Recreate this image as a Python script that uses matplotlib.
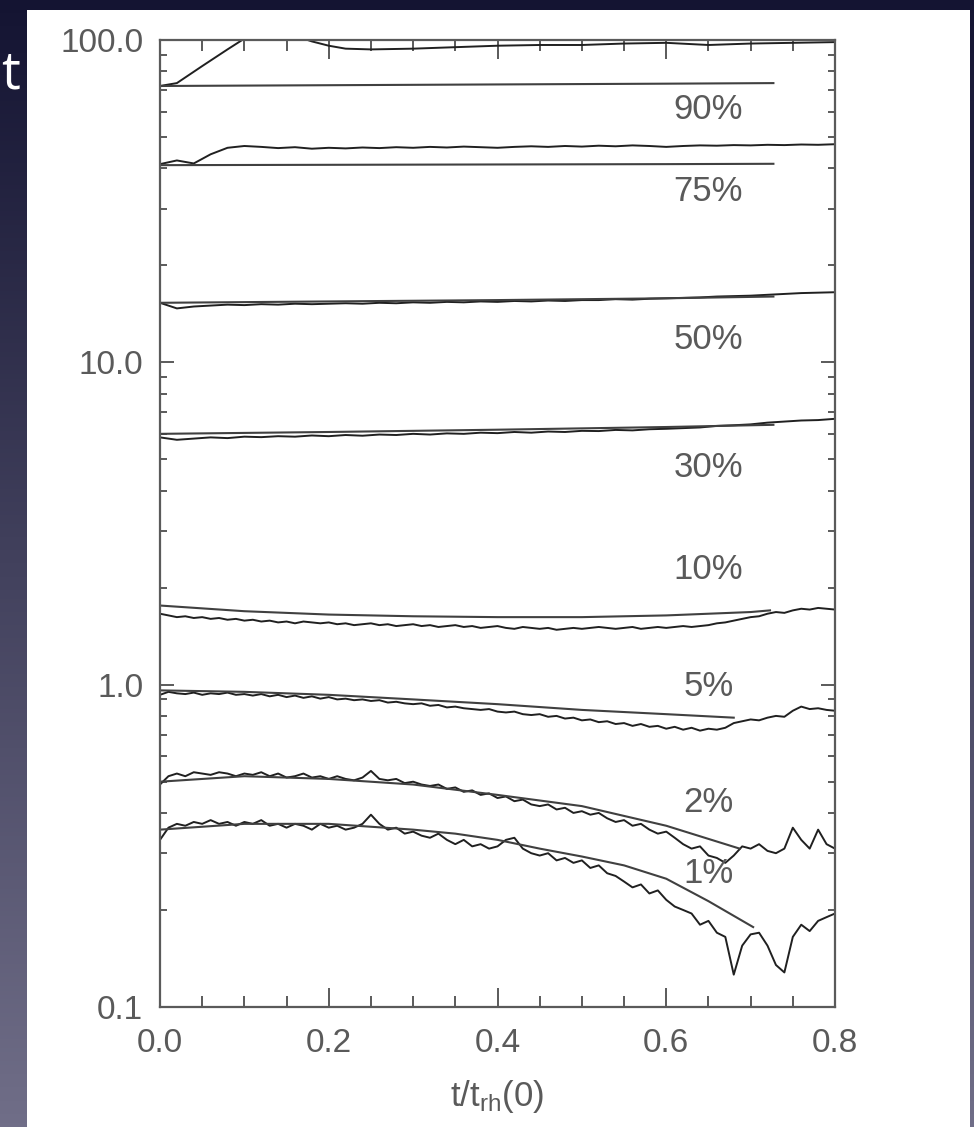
import numpy as np
import matplotlib
matplotlib.use("Agg")
import matplotlib.pyplot as plt
from matplotlib.patches import Rectangle

# time grids, t / t_rh(0)
t_fine = [0.00, 0.01, 0.02, 0.03, 0.04, 0.05, 0.06, 0.07, 0.08, 0.09,
          0.10, 0.11, 0.12, 0.13, 0.14, 0.15, 0.16, 0.17, 0.18, 0.19,
          0.20, 0.21, 0.22, 0.23, 0.24, 0.25, 0.26, 0.27, 0.28, 0.29,
          0.30, 0.31, 0.32, 0.33, 0.34, 0.35, 0.36, 0.37, 0.38, 0.39,
          0.40, 0.41, 0.42, 0.43, 0.44, 0.45, 0.46, 0.47, 0.48, 0.49,
          0.50, 0.51, 0.52, 0.53, 0.54, 0.55, 0.56, 0.57, 0.58, 0.59,
          0.60, 0.61, 0.62, 0.63, 0.64, 0.65, 0.66, 0.67, 0.68, 0.69,
          0.70, 0.71, 0.72, 0.73, 0.74, 0.75, 0.76, 0.77, 0.78, 0.79, 0.80]
t_coarse = [0.00, 0.02, 0.04, 0.06, 0.08, 0.10, 0.12, 0.14, 0.16, 0.18,
            0.20, 0.22, 0.24, 0.26, 0.28, 0.30, 0.32, 0.34, 0.36, 0.38,
            0.40, 0.42, 0.44, 0.46, 0.48, 0.50, 0.52, 0.54, 0.56, 0.58,
            0.60, 0.62, 0.64, 0.66, 0.68, 0.70, 0.72, 0.74, 0.76, 0.78, 0.80]

# simulated Lagrangian radii (noisy curves)
r1 = [0.33, 0.36, 0.37, 0.365, 0.375, 0.37, 0.38, 0.37, 0.375, 0.365,
      0.375, 0.37, 0.38, 0.365, 0.37, 0.36, 0.37, 0.365, 0.355, 0.37,
      0.36, 0.365, 0.355, 0.36, 0.37, 0.395, 0.37, 0.355, 0.36, 0.345,
      0.35, 0.34, 0.335, 0.345, 0.33, 0.32, 0.33, 0.315, 0.32, 0.31,
      0.315, 0.33, 0.335, 0.31, 0.30, 0.295, 0.30, 0.285, 0.29, 0.28,
      0.285, 0.27, 0.275, 0.26, 0.255, 0.245, 0.235, 0.24, 0.225, 0.23,
      0.215, 0.205, 0.20, 0.195, 0.18, 0.185, 0.17, 0.165, 0.126, 0.155,
      0.168, 0.17, 0.155, 0.135, 0.128, 0.165, 0.18, 0.172, 0.185, 0.19, 0.195]
r2 = [0.49, 0.52, 0.53, 0.52, 0.535, 0.53, 0.525, 0.535, 0.53, 0.52,
      0.53, 0.525, 0.535, 0.52, 0.53, 0.515, 0.52, 0.53, 0.515, 0.52,
      0.51, 0.52, 0.51, 0.505, 0.515, 0.54, 0.51, 0.505, 0.51, 0.495,
      0.50, 0.49, 0.485, 0.49, 0.475, 0.48, 0.465, 0.47, 0.455, 0.46,
      0.445, 0.45, 0.435, 0.44, 0.425, 0.42, 0.425, 0.41, 0.415, 0.40,
      0.405, 0.395, 0.40, 0.385, 0.375, 0.38, 0.365, 0.37, 0.355, 0.345,
      0.35, 0.335, 0.32, 0.31, 0.315, 0.295, 0.29, 0.28, 0.295, 0.315,
      0.31, 0.32, 0.305, 0.30, 0.31, 0.36, 0.33, 0.31, 0.355, 0.32, 0.31]
r5 = [0.93, 0.95, 0.94, 0.935, 0.945, 0.93, 0.94, 0.935, 0.945, 0.93,
      0.935, 0.925, 0.935, 0.92, 0.93, 0.915, 0.925, 0.91, 0.92, 0.905,
      0.915, 0.90, 0.905, 0.895, 0.90, 0.89, 0.895, 0.88, 0.885, 0.875,
      0.87, 0.875, 0.86, 0.865, 0.85, 0.855, 0.845, 0.84, 0.835, 0.84,
      0.825, 0.82, 0.825, 0.81, 0.805, 0.81, 0.795, 0.80, 0.785, 0.79,
      0.775, 0.78, 0.765, 0.77, 0.755, 0.76, 0.745, 0.755, 0.74, 0.745,
      0.73, 0.74, 0.725, 0.735, 0.72, 0.73, 0.725, 0.735, 0.76, 0.77,
      0.78, 0.775, 0.79, 0.80, 0.795, 0.83, 0.855, 0.84, 0.845, 0.835, 0.83]
r10 = [1.66, 1.64, 1.62, 1.63, 1.61, 1.62, 1.60, 1.61, 1.59, 1.60,
       1.58, 1.59, 1.57, 1.58, 1.56, 1.57, 1.55, 1.57, 1.56, 1.55,
       1.56, 1.54, 1.55, 1.53, 1.54, 1.55, 1.53, 1.54, 1.52, 1.53,
       1.54, 1.52, 1.53, 1.51, 1.52, 1.53, 1.51, 1.52, 1.50, 1.51,
       1.52, 1.50, 1.49, 1.51, 1.50, 1.49, 1.50, 1.48, 1.49, 1.50,
       1.49, 1.50, 1.51, 1.50, 1.49, 1.50, 1.51, 1.49, 1.50, 1.51,
       1.50, 1.51, 1.52, 1.51, 1.52, 1.53, 1.55, 1.56, 1.58, 1.60,
       1.62, 1.63, 1.66, 1.68, 1.67, 1.70, 1.72, 1.71, 1.73, 1.72, 1.71]
r30 = [5.85, 5.75, 5.80, 5.85, 5.82, 5.88, 5.86, 5.90, 5.88, 5.93,
       5.90, 5.95, 5.92, 5.97, 5.95, 6.00, 5.97, 6.02, 6.00, 6.05,
       6.03, 6.08, 6.05, 6.10, 6.08, 6.13, 6.12, 6.17, 6.15, 6.20,
       6.22, 6.25, 6.28, 6.35, 6.38, 6.42, 6.50, 6.55, 6.60, 6.62, 6.68]
r50 = [15.3, 14.7, 14.9, 15.0, 15.1, 15.05, 15.15, 15.1, 15.2, 15.15,
       15.2, 15.25, 15.2, 15.3, 15.25, 15.35, 15.3, 15.4, 15.35, 15.45,
       15.4, 15.5, 15.45, 15.55, 15.5, 15.6, 15.6, 15.7, 15.65, 15.75,
       15.8, 15.85, 15.9, 16.0, 16.05, 16.1, 16.2, 16.3, 16.4, 16.45, 16.5]
r75 = [41.2, 42.3, 41.4, 44.2, 46.3, 46.9, 46.6, 46.2, 46.5, 46.0,
       46.3, 46.1, 46.4, 46.2, 46.5, 46.3, 46.6, 46.4, 46.7, 46.5,
       46.3, 46.6, 46.8, 46.6, 46.9, 46.7, 47.0, 46.8, 47.1, 46.9,
       46.6, 46.9, 47.1, 47.0, 47.2, 47.1, 47.3, 47.2, 47.4, 47.3, 47.5]
t_r90 = [0.00, 0.02, 0.05, 0.08, 0.10, 0.12, 0.14, 0.16, 0.18, 0.20, 0.22,
         0.25, 0.30, 0.35, 0.40, 0.45, 0.50, 0.55, 0.60, 0.65, 0.70, 0.75, 0.80]
r90 = [72.0, 73.5, 83.0, 93.5, 101.0, 112.0, 112.0, 103.0, 99.0, 96.0, 94.0,
       93.5, 94.0, 95.0, 96.0, 96.5, 96.5, 97.5, 98.0, 96.5, 97.5, 98.0, 98.5]

# model curves
t_m1 = [0.00, 0.10, 0.20, 0.30, 0.35, 0.40, 0.45, 0.50, 0.55, 0.60, 0.65, 0.703]
m1 = [0.355, 0.37, 0.37, 0.355, 0.345, 0.33, 0.31, 0.293, 0.275, 0.25, 0.213, 0.177]
t_m2 = [0.00, 0.10, 0.20, 0.30, 0.40, 0.50, 0.60, 0.687]
m2 = [0.50, 0.52, 0.51, 0.49, 0.455, 0.42, 0.365, 0.31]
t_m5 = [0.00, 0.10, 0.20, 0.30, 0.40, 0.50, 0.60, 0.68]
m5 = [0.96, 0.95, 0.93, 0.90, 0.87, 0.835, 0.81, 0.79]
t_m10 = [0.00, 0.10, 0.20, 0.30, 0.40, 0.50, 0.60, 0.70, 0.723]
m10 = [1.76, 1.69, 1.65, 1.63, 1.62, 1.62, 1.64, 1.68, 1.70]
t_mflat = [0.00, 0.20, 0.40, 0.60, 0.727]
m30 = [6.0, 6.08, 6.18, 6.30, 6.40]
m50 = [15.3, 15.45, 15.6, 15.8, 16.0]
m75 = [40.9, 41.0, 41.1, 41.2, 41.3]
m90 = [72.0, 72.4, 72.8, 73.2, 73.5]

labels = ["90%", "75%", "50%", "30%", "10%", "5%", "2%", "1%"]
label_y = [60.7, 34.0, 11.8, 4.72, 2.27, 0.99, 0.43, 0.26]
label_x = 0.65

plt.rcParams["font.family"] = ["Liberation Sans", "DejaVu Sans"]
grey = "#5a5a5a"

fig = plt.figure(figsize=(9.74, 11.27), dpi=100)

# slide background: gradient strip with white panel on top
bg = fig.add_axes([0, 0, 1, 1])
grad = np.linspace(0, 1, 256)[:, None]
top_col = np.array([20, 20, 50]) / 255
bot_col = np.array([112, 110, 136]) / 255
img = top_col[None, None, :] * (1 - grad[:, :, None]) + bot_col[None, None, :] * grad[:, :, None]
bg.imshow(img, aspect="auto", extent=[0, 1, 0, 1])
bg.add_patch(Rectangle((27 / 974, 0), (970 - 27) / 974, 1 - 10 / 1127,
                       facecolor="white", edgecolor="none"))
bg.set_xlim(0, 1)
bg.set_ylim(0, 1)
bg.axis("off")
# slide title text peeking out from behind the panel
fig.text(0.001, 0.934, "t", color="white", fontsize=38,
         family=["Open Sans", "DejaVu Sans"], va="center", ha="left")

ax = fig.add_axes([160 / 974, 1 - 1007 / 1127, 675 / 974, 967 / 1127])
ax.set_facecolor("none")

data_kw = dict(color="#202020", lw=1.4)
model_kw = dict(color="#404040", lw=1.5)

ax.plot(t_fine, r1, **data_kw)
ax.plot(t_fine, r2, **data_kw)
ax.plot(t_fine, r5, **data_kw)
ax.plot(t_fine, r10, **data_kw)
ax.plot(t_coarse, r30, **data_kw)
ax.plot(t_coarse, r50, **data_kw)
ax.plot(t_coarse, r75, **data_kw)
ax.plot(t_r90, r90, **data_kw)

ax.plot(t_m1, m1, **model_kw)
ax.plot(t_m2, m2, **model_kw)
ax.plot(t_m5, m5, **model_kw)
ax.plot(t_m10, m10, **model_kw)
ax.plot(t_mflat, m30, **model_kw)
ax.plot(t_mflat, m50, **model_kw)
ax.plot(t_mflat, m75, **model_kw)
ax.plot(t_mflat, m90, **model_kw)

for lab, ly in zip(labels, label_y):
    ax.text(label_x, ly, lab, fontsize=25, color=grey, ha="center", va="center")

ax.set_yscale("log")
ax.set_xlim(0, 0.8)
ax.set_ylim(0.1, 100)

ax.set_xticks([0.0, 0.2, 0.4, 0.6, 0.8])
ax.set_xticklabels(["0.0", "0.2", "0.4", "0.6", "0.8"])
ax.set_xticks(np.arange(0.05, 0.8, 0.05), minor=True)
ax.set_yticks([0.1, 1, 10, 100])
ax.set_yticklabels(["0.1", "1.0", "10.0", "100.0"])
ax.yaxis.set_minor_locator(matplotlib.ticker.LogLocator(base=10, subs=np.arange(2, 10)))
ax.yaxis.set_minor_formatter(matplotlib.ticker.NullFormatter())

ax.tick_params(axis="x", which="major", direction="in", length=14, width=1.4,
               top=True, color=grey, labelsize=24, labelcolor=grey, pad=15)
ax.tick_params(axis="x", which="minor", direction="in", length=8, width=1.4,
               top=True, color=grey)
ax.tick_params(axis="y", which="major", direction="in", length=10, width=1.4,
               right=True, color=grey, labelsize=24, labelcolor=grey, pad=12)
ax.tick_params(axis="y", which="minor", direction="in", length=5, width=1.4,
               right=True, color=grey)
for s in ax.spines.values():
    s.set_color(grey)
    s.set_linewidth(1.6)

ax.set_xlabel(r"$\mathregular{t/t_{rh}(0)}$", fontsize=25, color=grey, labelpad=14)

fig.savefig("out.png", dpi=100)
